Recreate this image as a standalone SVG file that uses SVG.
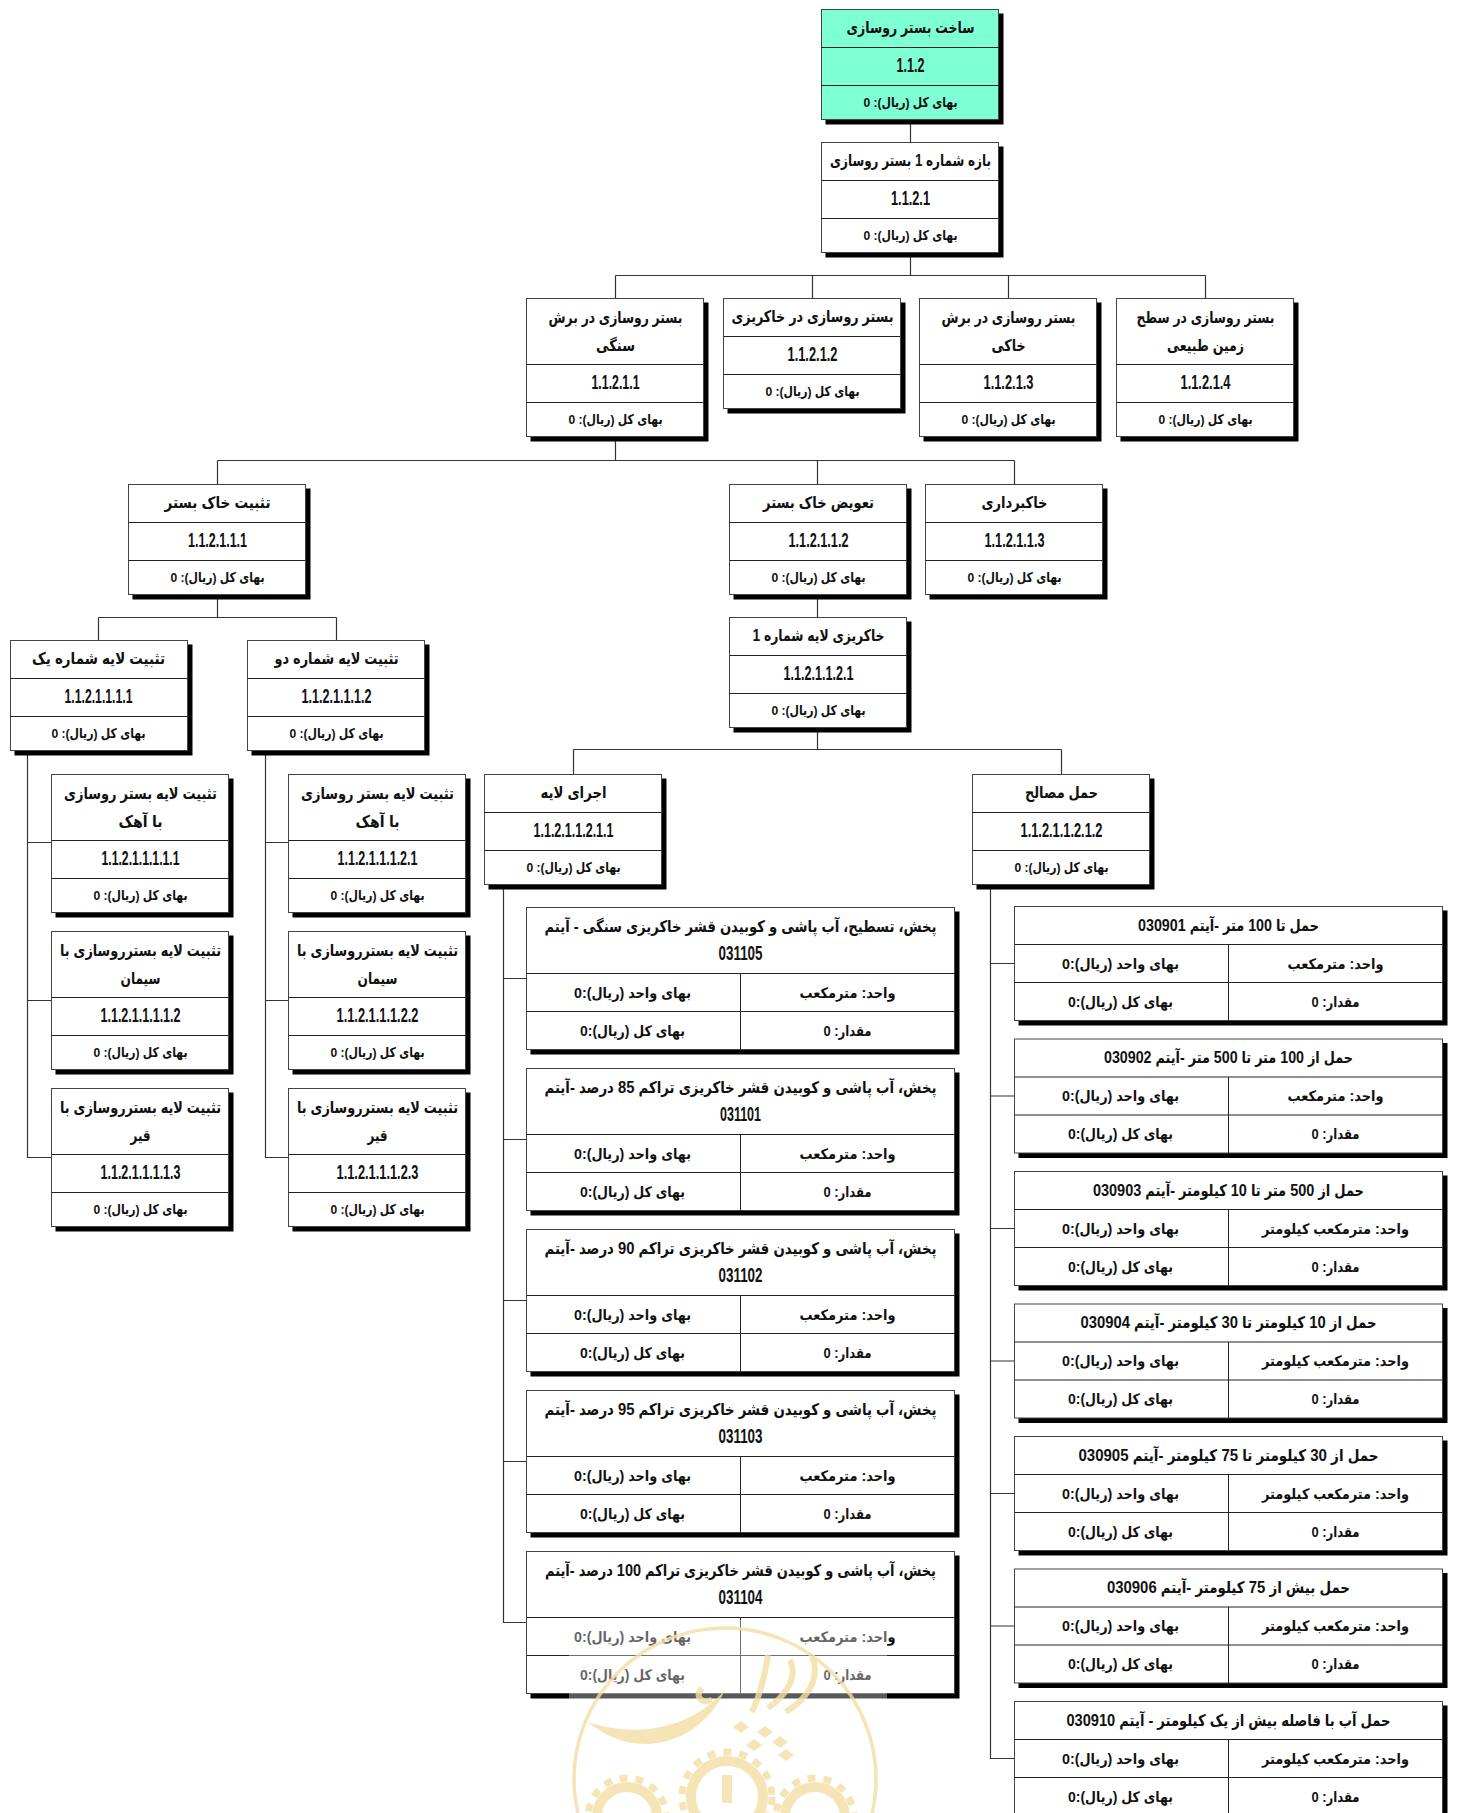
<svg xmlns="http://www.w3.org/2000/svg" width="1457" height="1813" viewBox="0 0 1457 1813">
<style>
text{direction:rtl;text-anchor:middle;fill:#111;font-family:"Liberation Sans","DejaVu Sans Condensed","DejaVu Sans",sans-serif;font-weight:bold}
.t{font-size:16px}
.c{font-size:20px;direction:ltr}
.p{font-size:13.5px}
.q{font-size:14.5px}
.k{fill:#000}
.w{fill:#fff;stroke:#444;stroke-width:1}
.a{fill:#7fffd4;stroke:#444;stroke-width:1}
.l{fill:none;stroke:#222;stroke-width:1}
#connectors path{fill:none;stroke:#333;stroke-width:1.2}
.ring{fill:none;stroke:#f3dfa4}
.ink{fill:#f3dfa4}
</style>
<defs>
<g id="f110"><rect class="k" x="4" y="4" width="178" height="111"/><rect class="w" width="177" height="110"/><path class="l" d="M0 38H177M0 76H177"/></g>
<g id="f138"><rect class="k" x="4" y="4" width="178" height="139"/><rect class="w" width="177" height="138"/><path class="l" d="M0 66H177M0 104H177"/></g>
<g id="fi"><rect class="k" x="4" y="4" width="429" height="143"/><rect class="w" width="428" height="142"/><path class="l" d="M0 66H428M0 104H428M214 66V142"/></g>
<g id="fr"><rect class="k" x="4" y="4" width="429" height="115"/><rect class="w" width="428" height="114"/><path class="l" d="M0 38H428M0 76H428M214 38V114"/></g>
</defs>
<g id="connectors">
<path d="M910.5 119V142M910.5 252V275.5M615.5 275.5H1205.5M615.5 275.5V298.5M812.5 275.5V298.5M1008.5 275.5V298.5M1205.5 275.5V298.5"/>
<path d="M615.5 437V460.5M217.5 460.5H1014.5M217.5 460.5V484.5M817.5 460.5V484.5M1014.5 460.5V484.5"/>
<path d="M217.5 595V617.5M98.5 617.5H336.5M98.5 617.5V640.5M336.5 617.5V640.5M817.5 595V617.5"/>
<path d="M27.5 750V1157.5H51.5M27.5 842.5H51.5M27.5 1000.5H51.5M265.5 750V1157.5H288.5M265.5 842.5H288.5M265.5 1000.5H288.5"/>
<path d="M817.5 727V749.5M573.5 749.5H1061.5M573.5 749.5V774.5M1061.5 749.5V774.5"/>
<path d="M503.5 884V1622.5H526.5M503.5 978.5H526.5M503.5 1139.5H526.5M503.5 1300.5H526.5M503.5 1461.5H526.5"/>
<path d="M990.5 884V1758.5H1014.5M990.5 963.5H1014.5M990.5 1096H1014.5M990.5 1228.5H1014.5M990.5 1361H1014.5M990.5 1493.5H1014.5M990.5 1626H1014.5"/>
</g>
<g id="n112" transform="translate(821.5 9.5)"><rect class="k" x="4" y="4" width="178" height="111"/><rect class="a" width="177" height="110"/><path class="l" d="M0 38H177M0 76H177"/><text class="t" x="89" y="23" textLength="128" lengthAdjust="spacingAndGlyphs">ساخت بستر روسازی</text><text class="c" x="89" y="62" textLength="28" lengthAdjust="spacingAndGlyphs">1.1.2</text><text class="p" x="89" y="97" textLength="94" lengthAdjust="spacingAndGlyphs">بهای کل (ریال): 0</text></g>
<g id="n1121" transform="translate(821.5 142.5)"><use href="#f110"/><text class="t" x="89" y="23" textLength="161" lengthAdjust="spacingAndGlyphs">بازه شماره 1 بستر روسازی</text><text class="c" x="89" y="62" textLength="39" lengthAdjust="spacingAndGlyphs">1.1.2.1</text><text class="p" x="89" y="97" textLength="94" lengthAdjust="spacingAndGlyphs">بهای کل (ریال): 0</text></g>
<g id="n11211" transform="translate(526.5 298.5)"><use href="#f138"/><text class="t" x="89" y="24" textLength="134" lengthAdjust="spacingAndGlyphs">بستر روسازی در برش</text><text class="t" x="89" y="52" textLength="39" lengthAdjust="spacingAndGlyphs">سنگی</text><text class="c" x="89" y="90" textLength="48" lengthAdjust="spacingAndGlyphs">1.1.2.1.1</text><text class="p" x="89" y="125" textLength="94" lengthAdjust="spacingAndGlyphs">بهای کل (ریال): 0</text></g>
<g id="n11212" transform="translate(723.5 298.5)"><use href="#f110"/><text class="t" x="89" y="23" textLength="162" lengthAdjust="spacingAndGlyphs">بستر روسازی در خاکریزی</text><text class="c" x="89" y="62" textLength="50" lengthAdjust="spacingAndGlyphs">1.1.2.1.2</text><text class="p" x="89" y="97" textLength="94" lengthAdjust="spacingAndGlyphs">بهای کل (ریال): 0</text></g>
<g id="n11213" transform="translate(919.5 298.5)"><use href="#f138"/><text class="t" x="89" y="24" textLength="134" lengthAdjust="spacingAndGlyphs">بستر روسازی در برش</text><text class="t" x="89" y="52" textLength="34" lengthAdjust="spacingAndGlyphs">خاکی</text><text class="c" x="89" y="90" textLength="50" lengthAdjust="spacingAndGlyphs">1.1.2.1.3</text><text class="p" x="89" y="125" textLength="94" lengthAdjust="spacingAndGlyphs">بهای کل (ریال): 0</text></g>
<g id="n11214" transform="translate(1116.5 298.5)"><use href="#f138"/><text class="t" x="89" y="24" textLength="138" lengthAdjust="spacingAndGlyphs">بستر روسازی در سطح</text><text class="t" x="89" y="52" textLength="77" lengthAdjust="spacingAndGlyphs">زمین طبیعی</text><text class="c" x="89" y="90" textLength="50" lengthAdjust="spacingAndGlyphs">1.1.2.1.4</text><text class="p" x="89" y="125" textLength="94" lengthAdjust="spacingAndGlyphs">بهای کل (ریال): 0</text></g>
<g id="n112111" transform="translate(128.5 484.5)"><use href="#f110"/><text class="t" x="89" y="23" textLength="106" lengthAdjust="spacingAndGlyphs">تثبیت خاک بستر</text><text class="c" x="89" y="62" textLength="59" lengthAdjust="spacingAndGlyphs">1.1.2.1.1.1</text><text class="p" x="89" y="97" textLength="94" lengthAdjust="spacingAndGlyphs">بهای کل (ریال): 0</text></g>
<g id="n112112" transform="translate(729.5 484.5)"><use href="#f110"/><text class="t" x="89" y="23" textLength="111" lengthAdjust="spacingAndGlyphs">تعویض خاک بستر</text><text class="c" x="89" y="62" textLength="60" lengthAdjust="spacingAndGlyphs">1.1.2.1.1.2</text><text class="p" x="89" y="97" textLength="94" lengthAdjust="spacingAndGlyphs">بهای کل (ریال): 0</text></g>
<g id="n112113" transform="translate(925.5 484.5)"><use href="#f110"/><text class="t" x="89" y="23" textLength="66" lengthAdjust="spacingAndGlyphs">خاکبرداری</text><text class="c" x="89" y="62" textLength="60" lengthAdjust="spacingAndGlyphs">1.1.2.1.1.3</text><text class="p" x="89" y="97" textLength="94" lengthAdjust="spacingAndGlyphs">بهای کل (ریال): 0</text></g>
<g id="n1121111" transform="translate(10.5 640.5)"><use href="#f110"/><text class="t" x="88" y="23" textLength="133" lengthAdjust="spacingAndGlyphs">تثبیت لایه شماره یک</text><text class="c" x="88" y="62" textLength="68" lengthAdjust="spacingAndGlyphs">1.1.2.1.1.1.1</text><text class="p" x="88" y="97" textLength="94" lengthAdjust="spacingAndGlyphs">بهای کل (ریال): 0</text></g>
<g id="n1121112" transform="translate(247.5 640.5)"><use href="#f110"/><text class="t" x="89" y="23" textLength="124" lengthAdjust="spacingAndGlyphs">تثبیت لایه شماره دو</text><text class="c" x="89" y="62" textLength="70" lengthAdjust="spacingAndGlyphs">1.1.2.1.1.1.2</text><text class="p" x="89" y="97" textLength="94" lengthAdjust="spacingAndGlyphs">بهای کل (ریال): 0</text></g>
<g id="n1121121" transform="translate(729.5 617.5)"><use href="#f110"/><text class="t" x="89" y="23" textLength="132" lengthAdjust="spacingAndGlyphs">خاکریزی لایه شماره 1</text><text class="c" x="89" y="62" textLength="70" lengthAdjust="spacingAndGlyphs">1.1.2.1.1.2.1</text><text class="p" x="89" y="97" textLength="94" lengthAdjust="spacingAndGlyphs">بهای کل (ریال): 0</text></g>
<g id="n11211111" transform="translate(51.5 774.5)"><use href="#f138"/><text class="t" x="89" y="24" textLength="153" lengthAdjust="spacingAndGlyphs">تثبیت لایه بستر روسازی</text><text class="t" x="89" y="52" textLength="44" lengthAdjust="spacingAndGlyphs">با آهک</text><text class="c" x="89" y="90" textLength="78" lengthAdjust="spacingAndGlyphs">1.1.2.1.1.1.1.1</text><text class="p" x="89" y="125" textLength="94" lengthAdjust="spacingAndGlyphs">بهای کل (ریال): 0</text></g>
<g id="n11211112" transform="translate(51.5 931.5)"><use href="#f138"/><text class="t" x="89" y="24" textLength="161" lengthAdjust="spacingAndGlyphs">تثبیت لایه بسترروسازی با</text><text class="t" x="89" y="52" textLength="40" lengthAdjust="spacingAndGlyphs">سیمان</text><text class="c" x="89" y="90" textLength="80" lengthAdjust="spacingAndGlyphs">1.1.2.1.1.1.1.2</text><text class="p" x="89" y="125" textLength="94" lengthAdjust="spacingAndGlyphs">بهای کل (ریال): 0</text></g>
<g id="n11211113" transform="translate(51.5 1088.5)"><use href="#f138"/><text class="t" x="89" y="24" textLength="161" lengthAdjust="spacingAndGlyphs">تثبیت لایه بسترروسازی با</text><text class="t" x="89" y="52" textLength="20" lengthAdjust="spacingAndGlyphs">قیر</text><text class="c" x="89" y="90" textLength="80" lengthAdjust="spacingAndGlyphs">1.1.2.1.1.1.1.3</text><text class="p" x="89" y="125" textLength="94" lengthAdjust="spacingAndGlyphs">بهای کل (ریال): 0</text></g>
<g id="n11211121" transform="translate(288.5 774.5)"><use href="#f138"/><text class="t" x="89" y="24" textLength="153" lengthAdjust="spacingAndGlyphs">تثبیت لایه بستر روسازی</text><text class="t" x="89" y="52" textLength="44" lengthAdjust="spacingAndGlyphs">با آهک</text><text class="c" x="89" y="90" textLength="80" lengthAdjust="spacingAndGlyphs">1.1.2.1.1.1.2.1</text><text class="p" x="89" y="125" textLength="94" lengthAdjust="spacingAndGlyphs">بهای کل (ریال): 0</text></g>
<g id="n11211122" transform="translate(288.5 931.5)"><use href="#f138"/><text class="t" x="89" y="24" textLength="161" lengthAdjust="spacingAndGlyphs">تثبیت لایه بسترروسازی با</text><text class="t" x="89" y="52" textLength="40" lengthAdjust="spacingAndGlyphs">سیمان</text><text class="c" x="89" y="90" textLength="82" lengthAdjust="spacingAndGlyphs">1.1.2.1.1.1.2.2</text><text class="p" x="89" y="125" textLength="94" lengthAdjust="spacingAndGlyphs">بهای کل (ریال): 0</text></g>
<g id="n11211123" transform="translate(288.5 1088.5)"><use href="#f138"/><text class="t" x="89" y="24" textLength="161" lengthAdjust="spacingAndGlyphs">تثبیت لایه بسترروسازی با</text><text class="t" x="89" y="52" textLength="20" lengthAdjust="spacingAndGlyphs">قیر</text><text class="c" x="89" y="90" textLength="82" lengthAdjust="spacingAndGlyphs">1.1.2.1.1.1.2.3</text><text class="p" x="89" y="125" textLength="94" lengthAdjust="spacingAndGlyphs">بهای کل (ریال): 0</text></g>
<g id="n112111211" transform="translate(484.5 774.5)"><use href="#f110"/><text class="t" x="89" y="23" textLength="66" lengthAdjust="spacingAndGlyphs">اجرای لایه</text><text class="c" x="89" y="62" textLength="80" lengthAdjust="spacingAndGlyphs">1.1.2.1.1.2.1.1</text><text class="p" x="89" y="97" textLength="94" lengthAdjust="spacingAndGlyphs">بهای کل (ریال): 0</text></g>
<g id="n112111212" transform="translate(972.5 774.5)"><use href="#f110"/><text class="t" x="89" y="23" textLength="73" lengthAdjust="spacingAndGlyphs">حمل مصالح</text><text class="c" x="89" y="62" textLength="82" lengthAdjust="spacingAndGlyphs">1.1.2.1.1.2.1.2</text><text class="p" x="89" y="97" textLength="94" lengthAdjust="spacingAndGlyphs">بهای کل (ریال): 0</text></g>
<g id="i031105" transform="translate(526.5 907.5)"><use href="#fi"/><text class="t" x="214" y="24" textLength="392" lengthAdjust="spacingAndGlyphs">پخش، تسطیح، آب پاشی و کوبیدن قشر خاکریزی سنگی - آیتم</text><text class="c" x="214" y="52" textLength="44" lengthAdjust="spacingAndGlyphs">031105</text><text class="q" x="321" y="90" textLength="96" lengthAdjust="spacingAndGlyphs">واحد: مترمکعب</text><text class="q" x="106" y="90" textLength="117" lengthAdjust="spacingAndGlyphs">بهای واحد (ریال):0</text><text class="q" x="321" y="128" textLength="48" lengthAdjust="spacingAndGlyphs">مقدار: 0</text><text class="q" x="106" y="128" textLength="105" lengthAdjust="spacingAndGlyphs">بهای کل (ریال):0</text></g>
<g id="i031101" transform="translate(526.5 1068.5)"><use href="#fi"/><text class="t" x="214" y="24" textLength="392" lengthAdjust="spacingAndGlyphs">پخش، آب پاشی و کوبیدن قشر خاکریزی تراکم 85 درصد -آیتم</text><text class="c" x="214" y="52" textLength="41" lengthAdjust="spacingAndGlyphs">031101</text><text class="q" x="321" y="90" textLength="96" lengthAdjust="spacingAndGlyphs">واحد: مترمکعب</text><text class="q" x="106" y="90" textLength="117" lengthAdjust="spacingAndGlyphs">بهای واحد (ریال):0</text><text class="q" x="321" y="128" textLength="48" lengthAdjust="spacingAndGlyphs">مقدار: 0</text><text class="q" x="106" y="128" textLength="105" lengthAdjust="spacingAndGlyphs">بهای کل (ریال):0</text></g>
<g id="i031102" transform="translate(526.5 1229.5)"><use href="#fi"/><text class="t" x="214" y="24" textLength="392" lengthAdjust="spacingAndGlyphs">پخش، آب پاشی و کوبیدن قشر خاکریزی تراکم 90 درصد -آیتم</text><text class="c" x="214" y="52" textLength="44" lengthAdjust="spacingAndGlyphs">031102</text><text class="q" x="321" y="90" textLength="96" lengthAdjust="spacingAndGlyphs">واحد: مترمکعب</text><text class="q" x="106" y="90" textLength="117" lengthAdjust="spacingAndGlyphs">بهای واحد (ریال):0</text><text class="q" x="321" y="128" textLength="48" lengthAdjust="spacingAndGlyphs">مقدار: 0</text><text class="q" x="106" y="128" textLength="105" lengthAdjust="spacingAndGlyphs">بهای کل (ریال):0</text></g>
<g id="i031103" transform="translate(526.5 1390.5)"><use href="#fi"/><text class="t" x="214" y="24" textLength="392" lengthAdjust="spacingAndGlyphs">پخش، آب پاشی و کوبیدن قشر خاکریزی تراکم 95 درصد -آیتم</text><text class="c" x="214" y="52" textLength="44" lengthAdjust="spacingAndGlyphs">031103</text><text class="q" x="321" y="90" textLength="96" lengthAdjust="spacingAndGlyphs">واحد: مترمکعب</text><text class="q" x="106" y="90" textLength="117" lengthAdjust="spacingAndGlyphs">بهای واحد (ریال):0</text><text class="q" x="321" y="128" textLength="48" lengthAdjust="spacingAndGlyphs">مقدار: 0</text><text class="q" x="106" y="128" textLength="105" lengthAdjust="spacingAndGlyphs">بهای کل (ریال):0</text></g>
<g id="i031104" transform="translate(526.5 1551.5)"><use href="#fi"/><text class="t" x="214" y="24" textLength="391" lengthAdjust="spacingAndGlyphs">پخش، آب پاشی و کوبیدن قشر خاکریزی تراکم 100 درصد -آیتم</text><text class="c" x="214" y="52" textLength="44" lengthAdjust="spacingAndGlyphs">031104</text><text class="q" x="321" y="90" textLength="96" lengthAdjust="spacingAndGlyphs">واحد: مترمکعب</text><text class="q" x="106" y="90" textLength="117" lengthAdjust="spacingAndGlyphs">بهای واحد (ریال):0</text><text class="q" x="321" y="128" textLength="48" lengthAdjust="spacingAndGlyphs">مقدار: 0</text><text class="q" x="106" y="128" textLength="105" lengthAdjust="spacingAndGlyphs">بهای کل (ریال):0</text></g>
<g id="i030901" transform="translate(1014.5 906.5)"><use href="#fr"/><text class="t" x="214" y="24" textLength="181" lengthAdjust="spacingAndGlyphs">حمل تا 100 متر -آیتم 030901</text><text class="q" x="321" y="62" textLength="96" lengthAdjust="spacingAndGlyphs">واحد: مترمکعب</text><text class="q" x="106" y="62" textLength="117" lengthAdjust="spacingAndGlyphs">بهای واحد (ریال):0</text><text class="q" x="321" y="100" textLength="48" lengthAdjust="spacingAndGlyphs">مقدار: 0</text><text class="q" x="106" y="100" textLength="105" lengthAdjust="spacingAndGlyphs">بهای کل (ریال):0</text></g>
<g id="i030902" transform="translate(1014.5 1039)"><use href="#fr"/><text class="t" x="214" y="24" textLength="249" lengthAdjust="spacingAndGlyphs">حمل از 100 متر تا 500 متر -آیتم 030902</text><text class="q" x="321" y="62" textLength="96" lengthAdjust="spacingAndGlyphs">واحد: مترمکعب</text><text class="q" x="106" y="62" textLength="117" lengthAdjust="spacingAndGlyphs">بهای واحد (ریال):0</text><text class="q" x="321" y="100" textLength="48" lengthAdjust="spacingAndGlyphs">مقدار: 0</text><text class="q" x="106" y="100" textLength="105" lengthAdjust="spacingAndGlyphs">بهای کل (ریال):0</text></g>
<g id="i030903" transform="translate(1014.5 1171.5)"><use href="#fr"/><text class="t" x="214" y="24" textLength="271" lengthAdjust="spacingAndGlyphs">حمل از 500 متر تا 10 کیلومتر -آیتم 030903</text><text class="q" x="321" y="62" textLength="147" lengthAdjust="spacingAndGlyphs">واحد: مترمکعب کیلومتر</text><text class="q" x="106" y="62" textLength="117" lengthAdjust="spacingAndGlyphs">بهای واحد (ریال):0</text><text class="q" x="321" y="100" textLength="48" lengthAdjust="spacingAndGlyphs">مقدار: 0</text><text class="q" x="106" y="100" textLength="105" lengthAdjust="spacingAndGlyphs">بهای کل (ریال):0</text></g>
<g id="i030904" transform="translate(1014.5 1304)"><use href="#fr"/><text class="t" x="214" y="24" textLength="296" lengthAdjust="spacingAndGlyphs">حمل از 10 کیلومتر  تا 30 کیلومتر -آیتم 030904</text><text class="q" x="321" y="62" textLength="147" lengthAdjust="spacingAndGlyphs">واحد: مترمکعب کیلومتر</text><text class="q" x="106" y="62" textLength="117" lengthAdjust="spacingAndGlyphs">بهای واحد (ریال):0</text><text class="q" x="321" y="100" textLength="48" lengthAdjust="spacingAndGlyphs">مقدار: 0</text><text class="q" x="106" y="100" textLength="105" lengthAdjust="spacingAndGlyphs">بهای کل (ریال):0</text></g>
<g id="i030905" transform="translate(1014.5 1436.5)"><use href="#fr"/><text class="t" x="214" y="24" textLength="300" lengthAdjust="spacingAndGlyphs">حمل از 30 کیلومتر  تا 75 کیلومتر -آیتم 030905</text><text class="q" x="321" y="62" textLength="147" lengthAdjust="spacingAndGlyphs">واحد: مترمکعب کیلومتر</text><text class="q" x="106" y="62" textLength="117" lengthAdjust="spacingAndGlyphs">بهای واحد (ریال):0</text><text class="q" x="321" y="100" textLength="48" lengthAdjust="spacingAndGlyphs">مقدار: 0</text><text class="q" x="106" y="100" textLength="105" lengthAdjust="spacingAndGlyphs">بهای کل (ریال):0</text></g>
<g id="i030906" transform="translate(1014.5 1569)"><use href="#fr"/><text class="t" x="214" y="24" textLength="243" lengthAdjust="spacingAndGlyphs">حمل بیش از 75 کیلومتر -آیتم 030906</text><text class="q" x="321" y="62" textLength="147" lengthAdjust="spacingAndGlyphs">واحد: مترمکعب کیلومتر</text><text class="q" x="106" y="62" textLength="117" lengthAdjust="spacingAndGlyphs">بهای واحد (ریال):0</text><text class="q" x="321" y="100" textLength="48" lengthAdjust="spacingAndGlyphs">مقدار: 0</text><text class="q" x="106" y="100" textLength="105" lengthAdjust="spacingAndGlyphs">بهای کل (ریال):0</text></g>
<g id="i030910" transform="translate(1014.5 1701.5)"><use href="#fr"/><text class="t" x="214" y="24" textLength="324" lengthAdjust="spacingAndGlyphs">حمل آب با فاصله بیش از یک کیلومتر - آیتم 030910</text><text class="q" x="321" y="62" textLength="147" lengthAdjust="spacingAndGlyphs">واحد: مترمکعب کیلومتر</text><text class="q" x="106" y="62" textLength="117" lengthAdjust="spacingAndGlyphs">بهای واحد (ریال):0</text><text class="q" x="321" y="100" textLength="48" lengthAdjust="spacingAndGlyphs">مقدار: 0</text><text class="q" x="106" y="100" textLength="105" lengthAdjust="spacingAndGlyphs">بهای کل (ریال):0</text></g>
<g id="watermark">
<rect x="569" y="1620" width="318" height="193" fill="#fff" opacity=".35"/>
<g opacity=".8">
<circle class="ring" cx="725" cy="1779" r="151" stroke-width="3.5"/>
<path class="ink" d="M588 1722C635 1738 690 1730 725 1690C700 1745 635 1762 588 1722Z"/>
<path class="ring" stroke-width="6" d="M768 1655C765 1675 760 1695 752 1712M790 1660C800 1680 780 1700 768 1708M812 1656C822 1680 805 1700 786 1712M702 1688C695 1696 700 1704 712 1700"/>
<path class="ink" d="M733 1727l8-6 8 6-8 6zM757 1732l8-6 8 6-8 6zM746 1745l8-6 8 6-8 6zM772 1742l8-6 8 6-8 6zM778 1755l8-6 8 6-8 6z"/>
<circle class="ring" cx="727" cy="1797" r="36" stroke-width="10"/>
<circle class="ring" cx="727" cy="1797" r="45" stroke-width="7" stroke-dasharray="8 8"/>
<circle class="ring" cx="627" cy="1817" r="30" stroke-width="10"/>
<circle class="ring" cx="627" cy="1817" r="39" stroke-width="7" stroke-dasharray="8 8"/>
<circle class="ring" cx="815" cy="1817" r="30" stroke-width="10"/>
<circle class="ring" cx="815" cy="1817" r="39" stroke-width="7" stroke-dasharray="8 8"/>
<path class="ring" d="M727 1775v28" stroke-width="10"/>
</g>
</g>
</svg>
